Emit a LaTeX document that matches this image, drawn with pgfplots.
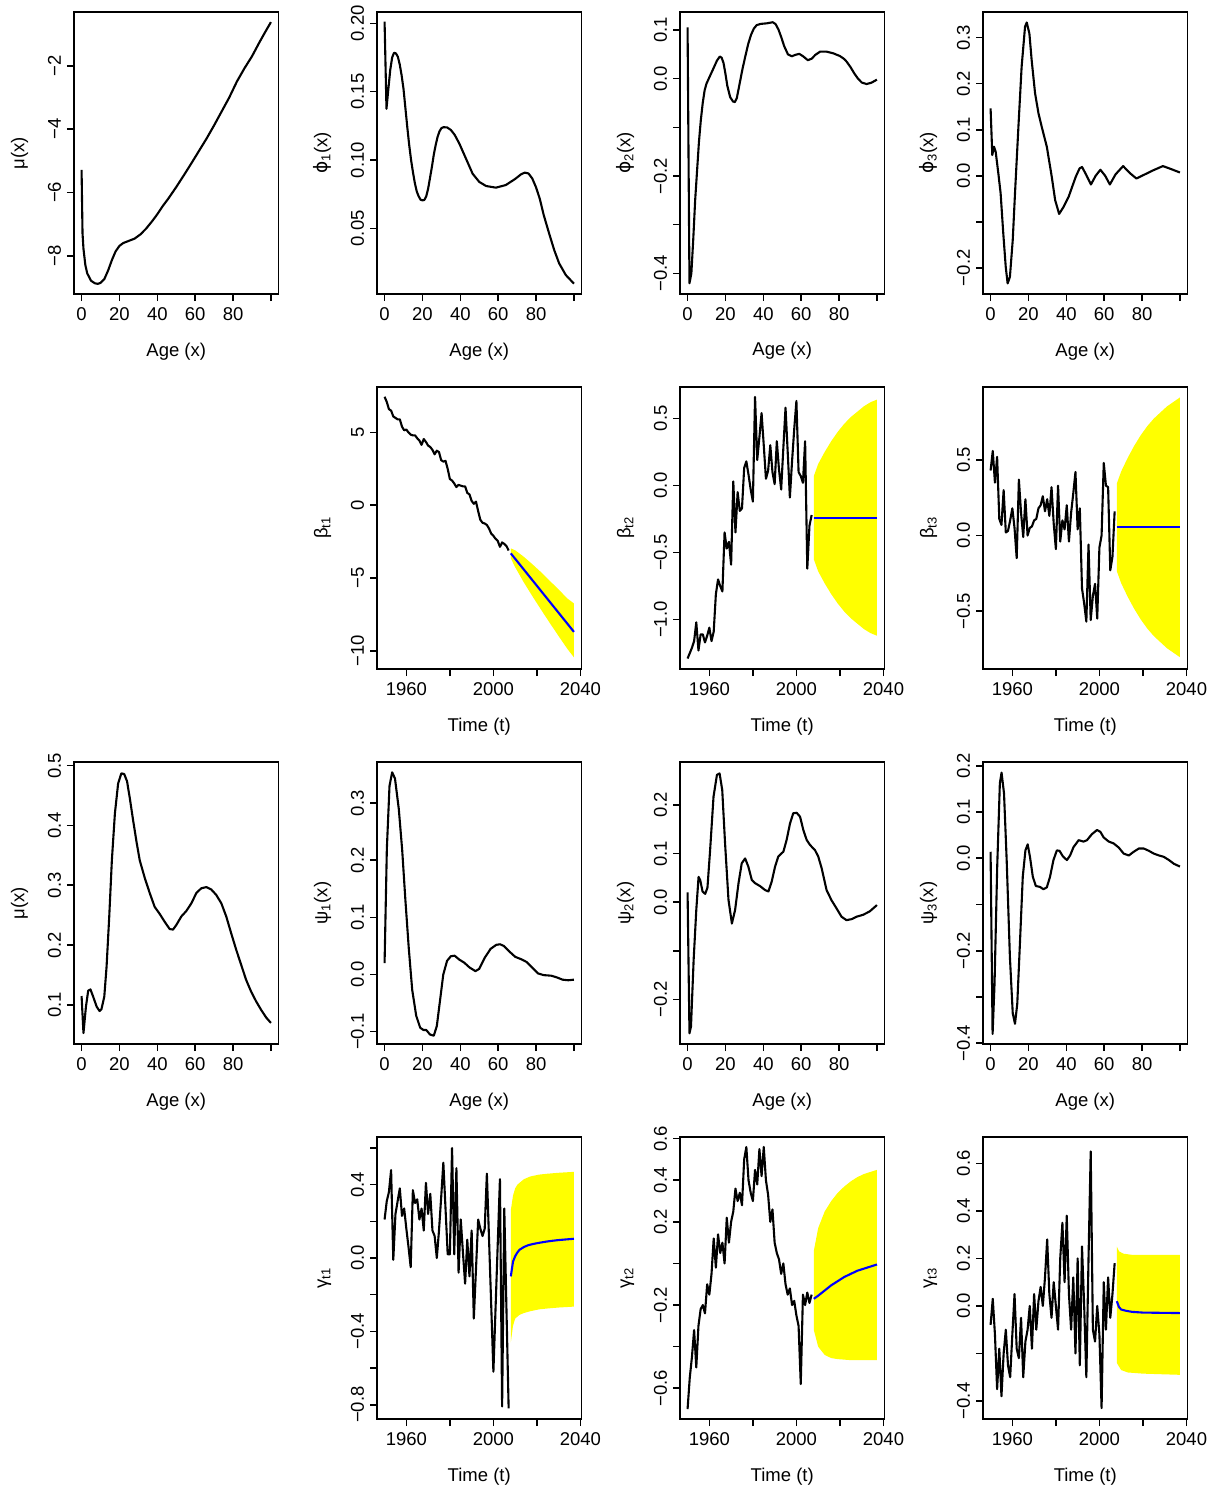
\documentclass[border=0pt]{standalone}
\usepackage{fontspec}
\setmainfont{Liberation Sans}
\newfontfamily\symf{DejaVu Sans}
\usepackage{pgfplots}
\pgfplotsset{compat=1.18}
\definecolor{ryellow}{RGB}{255,255,0}
\definecolor{rblue}{RGB}{0,0,255}
\newcommand\rf{\fontsize{18.5}{22}\selectfont}
\newcommand\phisym{{\symf ϕ}}
\pgfplotsset{
  rbase/.style={scale only axis, width=204.5pt, height=282pt, anchor=north west,
    enlargelimits=false, clip mode=individual,
    axis line style={line width=1.6pt}, tick align=outside, tick pos=left,
    major tick length=7pt, every tick/.style={black, line width=1.6pt},
    xticklabel style={font=\rf, anchor=north, inner ysep=7pt, outer sep=0pt},
    yticklabel style={font=\rf, rotate=90, anchor=south, inner ysep=6pt, outer sep=0pt}},
  rage/.style={rbase, xmin=-4, xmax=104, xtick={0,20,40,60,80,100}, xticklabels={0,20,40,60,80,{}}},
  rtime/.style={rbase, xmin=1946.52, xmax=2040.48, xtick={1960,1980,2000,2020,2040}, xticklabels={1960,{},2000,{},2040}},
  rline/.style={black, line width=2.1pt, line join=round},
  rfc/.style={rblue, line width=2.1pt},
  rband/.style={fill=ryellow, draw=none},
}
\newcommand\xlab[1]{\node[font=\rf, anchor=base] at ([yshift=-62pt]rel axis cs:0.5,0) {#1};}
\newcommand\ylab[1]{\node[font=\rf, rotate=90, anchor=base] at ([xshift=-49.6pt]rel axis cs:0,0.5) {#1};}

\begin{document}
\begin{tikzpicture}
\useasboundingbox (0,0) rectangle (1217pt,-1488pt);

% ---------- row 1: age effects of the first model
\begin{axis}[rage, at={(74pt,-12pt)}, ymin=-9.21, ymax=-0.30,
  ytick={-8,-6,-4,-2}, yticklabels={−8,−6,−4,−2}]
\addplot[rline] coordinates {(0,-5.29) (0.5,-7.29) (1,-7.78) (2,-8.30) (3,-8.56) (5,-8.79) (7,-8.87) (8.5,-8.89) (10,-8.86) (12,-8.74) (14,-8.47) (16,-8.14) (18,-7.86) (20,-7.69) (22,-7.60) (25,-7.53) (28,-7.46) (31,-7.33) (34,-7.15) (37,-6.93) (40,-6.69) (43,-6.42) (46,-6.18) (50,-5.83) (54,-5.46) (58,-5.08) (62,-4.69) (66,-4.30) (70,-3.88) (74,-3.44) (78,-3.00) (82,-2.50) (86,-2.08) (90,-1.70) (94,-1.25) (97,-0.93) (100,-0.62)};
\xlab{Age (x)}
\ylab{μ(x)}
\end{axis}

\begin{axis}[rage, at={(377pt,-12pt)}, ymin=0.002, ymax=0.2083,
  ytick={0.05,0.10,0.15,0.20}, yticklabels={0.05,0.10,0.15,0.20}]
\addplot[rline] coordinates {(0,0.2012) (1,0.1375) (2,0.152) (3,0.166) (4,0.175) (5,0.1785) (6,0.178) (7,0.1756) (8,0.170) (9,0.162) (10,0.152) (11,0.138) (12,0.124) (13,0.111) (14,0.100) (15,0.091) (16,0.083) (17,0.077) (18,0.0735) (19,0.071) (20,0.0705) (21,0.0708) (22,0.0735) (23,0.079) (24,0.087) (25,0.095) (26,0.104) (27,0.111) (28,0.117) (29,0.121) (30,0.1233) (31,0.124) (33,0.1239) (35,0.122) (37,0.1185) (39.5,0.112) (43,0.101) (46.5,0.090) (50,0.084) (53.6,0.081) (58.8,0.0798) (64,0.0817) (69,0.0862) (72,0.0895) (74,0.0908) (76,0.0902) (78,0.0865) (80,0.080) (82,0.0715) (84,0.060) (86.9,0.0463) (89.6,0.0341) (92.2,0.0244) (95.7,0.0159) (100,0.0096)};
\xlab{Age (x)}
\ylab{\phisym\textsubscript{1}(x)}
\end{axis}

\begin{axis}[rage, at={(680pt,-12pt)}, ymin=-0.4425, ymax=0.137,
  ytick={-0.4,-0.3,-0.2,-0.1,0,0.1}, yticklabels={−0.4,{},−0.2,{},0.0,0.1}]
\addplot[rline] coordinates {(0,0.1055) (1,-0.4205) (2,-0.40) (3,-0.33) (4,-0.25) (5,-0.19) (6,-0.13) (7,-0.085) (8,-0.05) (9,-0.024) (10,-0.010) (12,0.007) (14,0.024) (15.5,0.037) (17,0.0455) (18,0.043) (19,0.032) (20,0.010) (21,-0.015) (22.5,-0.038) (24,-0.047) (25,-0.048) (26,-0.04) (27.5,-0.010) (29,0.020) (30.5,0.046) (32,0.071) (33.5,0.090) (35,0.103) (36.5,0.110) (38.5,0.1125) (41.8,0.1137) (45,0.116) (46.5,0.112) (48,0.101) (49.5,0.085) (51,0.067) (53,0.050) (55,0.046) (57,0.049) (59,0.051) (61,0.046) (63.5,0.038) (65.5,0.041) (67.5,0.049) (70,0.0555) (73.4,0.0555) (77,0.052) (80.4,0.0466) (82.5,0.041) (84,0.035) (86,0.024) (88,0.011) (90,0.000) (92,-0.008) (94.5,-0.011) (97,-0.0085) (100,-0.002)};
\xlab{Age (x)}
\ylab{\phisym\textsubscript{2}(x)}
\end{axis}

\begin{axis}[rage, at={(983pt,-12pt)}, ymin=-0.257, ymax=0.3558,
  ytick={-0.2,-0.1,0,0.1,0.2,0.3}, yticklabels={−0.2,{},0.0,0.1,0.2,0.3}]
\addplot[rline] coordinates {(0,0.1464) (0.9,0.045) (1.8,0.063) (2.7,0.052) (4.1,0.005) (5.3,-0.038) (6.7,-0.125) (8,-0.198) (9,-0.234) (10.2,-0.22) (11.7,-0.14) (12.9,-0.038) (14.7,0.1065) (16.4,0.237) (18.2,0.324) (19.1,0.333) (20.5,0.309) (21.7,0.251) (23.5,0.179) (25.3,0.1355) (27,0.1065) (29.7,0.063) (32.3,-0.002) (34.1,-0.053) (36.2,-0.083) (38.5,-0.068) (41.2,-0.046) (43,-0.025) (45,-0.002) (47,0.016) (48.3,0.019) (50.5,0.002) (53,-0.019) (55.5,0.000) (58,0.013) (60.5,0.000) (63,-0.019) (66,0.003) (70,0.021) (73.5,0.006) (77,-0.006) (82,0.004) (86,0.012) (91,0.021) (95,0.015) (100,0.007)};
\xlab{Age (x)}
\ylab{\phisym\textsubscript{3}(x)}
\end{axis}

% ---------- row 2: period indices with forecasts
\begin{axis}[rtime, at={(377pt,-387pt)}, ymin=-11.24, ymax=8.12,
  ytick={-10,-5,0,5}, yticklabels={−10,−5,0,5}]
\addplot[rband] coordinates {(2008,-2.96) (2010,-3.09) (2014,-3.54) (2018,-4.06) (2022,-4.61) (2026,-5.20) (2030,-5.79) (2034,-6.40) (2037,-6.74) (2037,-10.44) (2034,-9.86) (2030,-8.99) (2026,-8.10) (2022,-7.19) (2018,-6.26) (2014,-5.30) (2010,-4.25) (2008,-3.64)};
\addplot[rline] coordinates {(1950,7.45) (1951,7.1) (1952,6.6) (1953,6.5) (1954,6.1) (1955,6.0) (1956,5.9) (1957,5.9) (1958,5.4) (1959,5.15) (1960,5.2) (1961,5.0) (1962,4.85) (1963,4.8) (1964,4.8) (1965,4.6) (1966,4.45) (1967,4.15) (1968,4.55) (1969,4.35) (1970,4.1) (1971,4.0) (1972,3.8) (1973,3.5) (1974,3.75) (1975,3.65) (1976,3.1) (1977,3.0) (1978,3.05) (1979,2.5) (1980,1.8) (1981,1.7) (1982,1.5) (1983,1.25) (1984,1.4) (1985,1.35) (1986,1.3) (1987,1.3) (1988,0.85) (1989,0.75) (1990,0.3) (1991,0.1) (1992,0.25) (1993,-0.4) (1994,-1.0) (1995,-1.2) (1996,-1.25) (1997,-1.35) (1998,-1.6) (1999,-1.95) (2000,-2.1) (2001,-2.3) (2002,-2.45) (2003,-2.85) (2004,-2.55) (2005,-2.65) (2006,-2.8) (2007,-3.1)};
\addplot[rfc] coordinates {(2008,-3.30) (2037,-8.69)};
\xlab{Time (t)}
\ylab{β\textsubscript{t1}}
\end{axis}

\begin{axis}[rtime, at={(680pt,-387pt)}, ymin=-1.368, ymax=0.734,
  ytick={-1,-0.5,0,0.5}, yticklabels={−1.0,−0.5,0.0,0.5}]
\addplot[rband] coordinates {(2008,0.07) (2010,0.16) (2013,0.25) (2016,0.33) (2019,0.40) (2022,0.46) (2025,0.51) (2028,0.55) (2031,0.59) (2034,0.62) (2037,0.64) (2037,-1.12) (2034,-1.10) (2031,-1.07) (2028,-1.03) (2025,-0.99) (2022,-0.94) (2019,-0.88) (2016,-0.81) (2013,-0.73) (2010,-0.64) (2008,-0.55)};
\addplot[rline] coordinates {(1950,-1.29) (1951,-1.25) (1952,-1.21) (1953,-1.16) (1954,-1.02) (1955,-1.23) (1956,-1.11) (1957,-1.11) (1958,-1.17) (1959,-1.12) (1960,-1.06) (1961,-1.16) (1962,-1.09) (1963,-0.81) (1964,-0.70) (1965,-0.75) (1966,-0.79) (1967,-0.35) (1968,-0.47) (1969,-0.42) (1970,-0.59) (1971,0.03) (1972,-0.35) (1973,-0.05) (1974,-0.19) (1975,-0.17) (1976,0.13) (1977,0.18) (1978,0.08) (1979,-0.03) (1980,-0.12) (1981,0.66) (1982,0.19) (1983,0.36) (1984,0.54) (1985,0.30) (1986,0.05) (1987,0.11) (1988,0.30) (1989,0.10) (1990,0.01) (1991,0.33) (1992,0.12) (1993,-0.03) (1994,0.28) (1995,0.58) (1996,0.25) (1997,-0.09) (1998,0.18) (1999,0.42) (2000,0.63) (2001,0.10) (2002,0.07) (2003,0.02) (2004,0.33) (2005,-0.62) (2006,-0.30) (2007,-0.22)};
\addplot[rfc] coordinates {(2008,-0.24) (2037,-0.24)};
\xlab{Time (t)}
\ylab{β\textsubscript{t2}}
\end{axis}

\begin{axis}[rtime, at={(983pt,-387pt)}, ymin=-0.884, ymax=0.983,
  ytick={-0.5,0,0.5}, yticklabels={−0.5,0.0,0.5}]
\addplot[rband] coordinates {(2008,0.344) (2010,0.424) (2013,0.514) (2016,0.594) (2019,0.664) (2022,0.724) (2025,0.774) (2028,0.814) (2031,0.854) (2034,0.884) (2037,0.914) (2037,-0.806) (2034,-0.776) (2031,-0.746) (2028,-0.706) (2025,-0.666) (2022,-0.616) (2019,-0.556) (2016,-0.486) (2013,-0.406) (2010,-0.316) (2008,-0.236)};
\addplot[rline] coordinates {(1950,0.43) (1951,0.56) (1952,0.35) (1953,0.52) (1954,0.11) (1955,0.07) (1956,0.30) (1957,0.02) (1958,0.03) (1959,0.10) (1960,0.18) (1961,0.05) (1962,-0.15) (1963,0.37) (1964,0.15) (1965,-0.01) (1966,0.24) (1967,0.00) (1968,0.05) (1969,0.06) (1970,0.10) (1971,0.11) (1972,0.18) (1973,0.20) (1974,0.26) (1975,0.16) (1976,0.24) (1977,0.13) (1978,0.32) (1979,0.08) (1980,-0.09) (1981,0.33) (1982,-0.04) (1983,0.10) (1984,0.04) (1985,0.20) (1986,-0.04) (1987,0.15) (1988,0.28) (1989,0.42) (1990,0.04) (1991,0.18) (1992,-0.35) (1993,-0.45) (1994,-0.57) (1995,-0.06) (1996,-0.56) (1997,-0.40) (1998,-0.32) (1999,-0.55) (2000,-0.08) (2001,0.00) (2002,0.48) (2003,0.33) (2004,0.32) (2005,-0.23) (2006,-0.14) (2007,0.16)};
\addplot[rfc] coordinates {(2008,0.054) (2037,0.054)};
\xlab{Time (t)}
\ylab{β\textsubscript{t3}}
\end{axis}

% ---------- row 3: age effects of the second model
\begin{axis}[rage, at={(74pt,-762pt)}, ymin=0.0348, ymax=0.506,
  ytick={0.1,0.2,0.3,0.4,0.5}, yticklabels={0.1,0.2,0.3,0.4,0.5}]
\addplot[rline] coordinates {(0,0.115) (1,0.053) (2.3,0.097) (3.5,0.124) (4.7,0.126) (6,0.115) (8,0.097) (9.5,0.09) (10.5,0.093) (12,0.114) (13.2,0.164) (14.6,0.247) (16,0.342) (17.6,0.42) (19.3,0.47) (21,0.487) (22.5,0.486) (24,0.474) (25.5,0.445) (27.2,0.409) (29,0.373) (30.7,0.342) (33.4,0.312) (36,0.287) (38.6,0.264) (41.3,0.252) (43.9,0.239) (46.5,0.227) (48.3,0.226) (50.1,0.234) (52.7,0.248) (55.3,0.257) (58,0.270) (60.6,0.287) (63.2,0.295) (65.9,0.297) (68.5,0.293) (71.1,0.284) (73.8,0.270) (76.4,0.248) (79,0.220) (81.7,0.192) (84.3,0.167) (86.9,0.142) (89.6,0.122) (92.2,0.106) (94.8,0.092) (97.5,0.079) (100,0.070)};
\xlab{Age (x)}
\ylab{μ(x)}
\end{axis}

\begin{axis}[rage, at={(377pt,-762pt)}, ymin=-0.1216, ymax=0.372,
  ytick={-0.1,0,0.1,0.2,0.3}, yticklabels={−0.1,0.0,0.1,0.2,0.3}]
\addplot[rline] coordinates {(0,0.02) (1.2,0.22) (2.6,0.33) (4,0.354) (5.5,0.343) (7.5,0.29) (9.3,0.218) (11,0.13) (12.8,0.045) (14.6,-0.027) (16.7,-0.072) (18.8,-0.093) (20.5,-0.097) (22,-0.097) (24,-0.105) (26,-0.107) (27.6,-0.09) (29.3,-0.045) (31,0.0) (33,0.024) (35,0.032) (37,0.033) (39.5,0.026) (42,0.021) (45,0.012) (48,0.006) (50,0.01) (53,0.03) (56,0.045) (59,0.052) (61,0.053) (63,0.05) (66,0.04) (69,0.031) (72,0.027) (75,0.022) (78,0.012) (81,0.002) (84,-0.001) (88,-0.002) (91,-0.005) (94,-0.009) (97,-0.01) (100,-0.009)};
\xlab{Age (x)}
\ylab{ψ\textsubscript{1}(x)}
\end{axis}

\begin{axis}[rage, at={(680pt,-762pt)}, ymin=-0.292, ymax=0.2885,
  ytick={-0.2,-0.1,0,0.1,0.2}, yticklabels={−0.2,{},0.0,0.1,0.2}]
\addplot[rline] coordinates {(0,0.02) (1,-0.27) (1.8,-0.256) (3.2,-0.119) (4.6,-0.016) (5.8,0.052) (6.7,0.045) (7.9,0.022) (9.3,0.017) (10.5,0.03) (11.9,0.107) (13.7,0.217) (15.5,0.262) (16.9,0.265) (18.3,0.231) (19.8,0.121) (21.6,0.005) (23.4,-0.044) (25.1,-0.016) (26.9,0.039) (28.6,0.08) (30.4,0.09) (32.1,0.073) (33.9,0.046) (35.7,0.039) (38.3,0.033) (40.9,0.025) (42.7,0.022) (44.4,0.042) (46.2,0.073) (47.9,0.094) (50.6,0.104) (52.3,0.128) (54.1,0.162) (55.8,0.183) (57.6,0.184) (59.4,0.176) (61.1,0.149) (62.9,0.128) (64.6,0.118) (67.3,0.107) (69,0.094) (70.8,0.07) (73.4,0.025) (76,0.004) (78.7,-0.013) (81.3,-0.03) (83.9,-0.037) (86.6,-0.035) (89.2,-0.03) (92.7,-0.026) (96.2,-0.019) (100,-0.006)};
\xlab{Age (x)}
\ylab{ψ\textsubscript{2}(x)}
\end{axis}

\begin{axis}[rage, at={(983pt,-762pt)}, ymin=-0.4016, ymax=0.208,
  ytick={-0.4,-0.3,-0.2,-0.1,0,0.1,0.2}, yticklabels={−0.4,{},−0.2,{},0.0,0.1,0.2}]
\addplot[rline] coordinates {(0,0.014) (1.06,-0.38) (2.1,-0.27) (3.5,-0.018) (4.9,0.162) (5.8,0.185) (7.1,0.14) (8.5,-0.004) (10.2,-0.213) (11.7,-0.335) (12.9,-0.358) (14.1,-0.314) (15.5,-0.184) (17,-0.04) (18.4,0.017) (19.6,0.03) (20.8,0.003) (22.3,-0.04) (23.9,-0.06) (26.1,-0.062) (27.9,-0.067) (29.7,-0.063) (31.4,-0.04) (33.2,-0.004) (35,0.017) (36.4,0.016) (38.2,0.004) (40.3,-0.004) (42,0.006) (43.8,0.024) (46.5,0.039) (49.1,0.036) (50.9,0.039) (53.5,0.052) (56.2,0.061) (58,0.057) (59.7,0.045) (62.4,0.036) (65,0.032) (67.7,0.023) (70.3,0.01) (73,0.006) (75.6,0.014) (78.3,0.021) (80.9,0.021) (83.6,0.016) (86.2,0.01) (88.9,0.006) (91.5,0.003) (94.2,-0.004) (96.8,-0.012) (100,-0.018)};
\xlab{Age (x)}
\ylab{ψ\textsubscript{3}(x)}
\end{axis}

% ---------- row 4: cohort indices with forecasts
\begin{axis}[rtime, at={(377pt,-1137pt)}, ymin=-0.878, ymax=0.66,
  ytick={-0.8,-0.6,-0.4,-0.2,0,0.2,0.4,0.6}, yticklabels={−0.8,{},−0.4,{},0.0,{},0.4,{}}]
\addplot[rband] coordinates {(2008,0.26) (2009,0.34) (2010,0.38) (2011,0.40) (2012,0.41) (2014,0.43) (2017,0.445) (2021,0.455) (2025,0.46) (2030,0.465) (2037,0.47) (2037,-0.265) (2030,-0.27) (2025,-0.275) (2021,-0.28) (2017,-0.29) (2014,-0.30) (2012,-0.31) (2011,-0.32) (2010,-0.33) (2009,-0.37) (2008,-0.46)};
\addplot[rline] coordinates {(1950,0.21) (1951,0.31) (1952,0.36) (1953,0.48) (1954,-0.01) (1955,0.24) (1956,0.31) (1957,0.38) (1958,0.23) (1959,0.27) (1960,0.16) (1961,0.06) (1962,-0.05) (1963,0.37) (1964,0.30) (1965,0.32) (1966,0.21) (1967,0.27) (1968,0.15) (1969,0.41) (1970,0.24) (1971,0.35) (1972,0.15) (1973,0.12) (1974,0.00) (1975,0.15) (1976,0.33) (1977,0.52) (1978,0.27) (1979,0.02) (1980,0.02) (1981,0.60) (1982,0.02) (1983,0.49) (1984,-0.08) (1985,0.21) (1986,0.03) (1987,-0.14) (1988,0.10) (1989,-0.10) (1990,0.15) (1991,-0.33) (1992,-0.06) (1993,0.21) (1994,0.16) (1995,0.12) (1996,0.16) (1997,0.46) (1998,0.10) (1999,-0.26) (2000,-0.62) (2001,-0.27) (2002,0.08) (2003,0.43) (2004,-0.81) (2005,0.27) (2006,-0.28) (2007,-0.82)};
\addplot[rfc] coordinates {(2008,-0.10) (2009,-0.02) (2010,0.01) (2011,0.03) (2012,0.045) (2014,0.06) (2016,0.07) (2018,0.076) (2021,0.083) (2024,0.089) (2027,0.094) (2030,0.098) (2033,0.101) (2037,0.105)};
\xlab{Time (t)}
\ylab{γ\textsubscript{t1}}
\end{axis}

\begin{axis}[rtime, at={(680pt,-1137pt)}, ymin=-0.748, ymax=0.608,
  ytick={-0.6,-0.4,-0.2,0,0.2,0.4,0.6}, yticklabels={−0.6,{},−0.2,{},0.2,0.4,0.6}]
\addplot[rband] coordinates {(2008,0.06) (2010,0.17) (2013,0.25) (2016,0.30) (2019,0.34) (2022,0.37) (2025,0.395) (2028,0.415) (2031,0.43) (2034,0.44) (2037,0.45) (2037,-0.465) (2031,-0.465) (2025,-0.465) (2019,-0.46) (2016,-0.455) (2013,-0.44) (2010,-0.40) (2008,-0.32)};
\addplot[rline] coordinates {(1950,-0.70) (1951,-0.55) (1952,-0.45) (1953,-0.32) (1954,-0.50) (1955,-0.30) (1956,-0.22) (1957,-0.20) (1958,-0.24) (1959,-0.10) (1960,-0.15) (1961,-0.05) (1962,0.12) (1963,-0.02) (1964,0.14) (1965,0.05) (1966,0.10) (1967,0.00) (1968,0.22) (1969,0.10) (1970,0.20) (1971,0.25) (1972,0.36) (1973,0.30) (1974,0.34) (1975,0.28) (1976,0.50) (1977,0.56) (1978,0.40) (1979,0.34) (1980,0.30) (1981,0.45) (1982,0.38) (1983,0.55) (1984,0.42) (1985,0.56) (1986,0.40) (1987,0.33) (1988,0.20) (1989,0.26) (1990,0.10) (1991,0.05) (1992,0.02) (1993,-0.05) (1994,0.00) (1995,-0.10) (1996,-0.15) (1997,-0.12) (1998,-0.20) (1999,-0.18) (2000,-0.25) (2001,-0.30) (2002,-0.58) (2003,-0.15) (2004,-0.20) (2005,-0.14) (2006,-0.19) (2007,-0.15)};
\addplot[rfc] coordinates {(2008,-0.17) (2010,-0.155) (2013,-0.13) (2016,-0.105) (2019,-0.085) (2022,-0.065) (2025,-0.05) (2028,-0.035) (2031,-0.025) (2034,-0.015) (2037,-0.005)};
\xlab{Time (t)}
\ylab{γ\textsubscript{t2}}
\end{axis}

\begin{axis}[rtime, at={(983pt,-1137pt)}, ymin=-0.476, ymax=0.711,
  ytick={-0.4,-0.2,0,0.2,0.4,0.6}, yticklabels={−0.4,{},0.0,0.2,0.4,0.6}]
\addplot[rband] coordinates {(2008,0.25) (2009,0.23) (2011,0.22) (2015,0.215) (2037,0.215) (2037,-0.29) (2020,-0.285) (2013,-0.28) (2010,-0.27) (2008,-0.24)};
\addplot[rline] coordinates {(1950,-0.08) (1951,0.03) (1952,-0.12) (1953,-0.35) (1954,-0.18) (1955,-0.38) (1956,-0.20) (1957,-0.10) (1958,-0.25) (1959,-0.30) (1960,-0.12) (1961,0.05) (1962,-0.18) (1963,-0.22) (1964,-0.05) (1965,-0.30) (1966,-0.15) (1967,-0.10) (1968,0.00) (1969,-0.18) (1970,0.05) (1971,-0.10) (1972,0.02) (1973,0.08) (1974,0.00) (1975,0.12) (1976,0.28) (1977,0.05) (1978,-0.05) (1979,0.10) (1980,0.00) (1981,-0.10) (1982,0.20) (1983,0.35) (1984,0.10) (1985,0.38) (1986,0.05) (1987,-0.10) (1988,0.12) (1989,-0.20) (1990,0.20) (1991,-0.25) (1992,0.25) (1993,0.00) (1994,-0.30) (1995,0.20) (1996,0.65) (1997,-0.10) (1998,-0.15) (1999,0.00) (2000,-0.12) (2001,-0.43) (2002,0.10) (2003,-0.10) (2004,0.12) (2005,-0.05) (2006,0.05) (2007,0.18)};
\addplot[rfc] coordinates {(2008,0.02) (2009,-0.005) (2010,-0.015) (2012,-0.02) (2015,-0.025) (2020,-0.028) (2037,-0.03)};
\xlab{Time (t)}
\ylab{γ\textsubscript{t3}}
\end{axis}
\end{tikzpicture}
\end{document}
